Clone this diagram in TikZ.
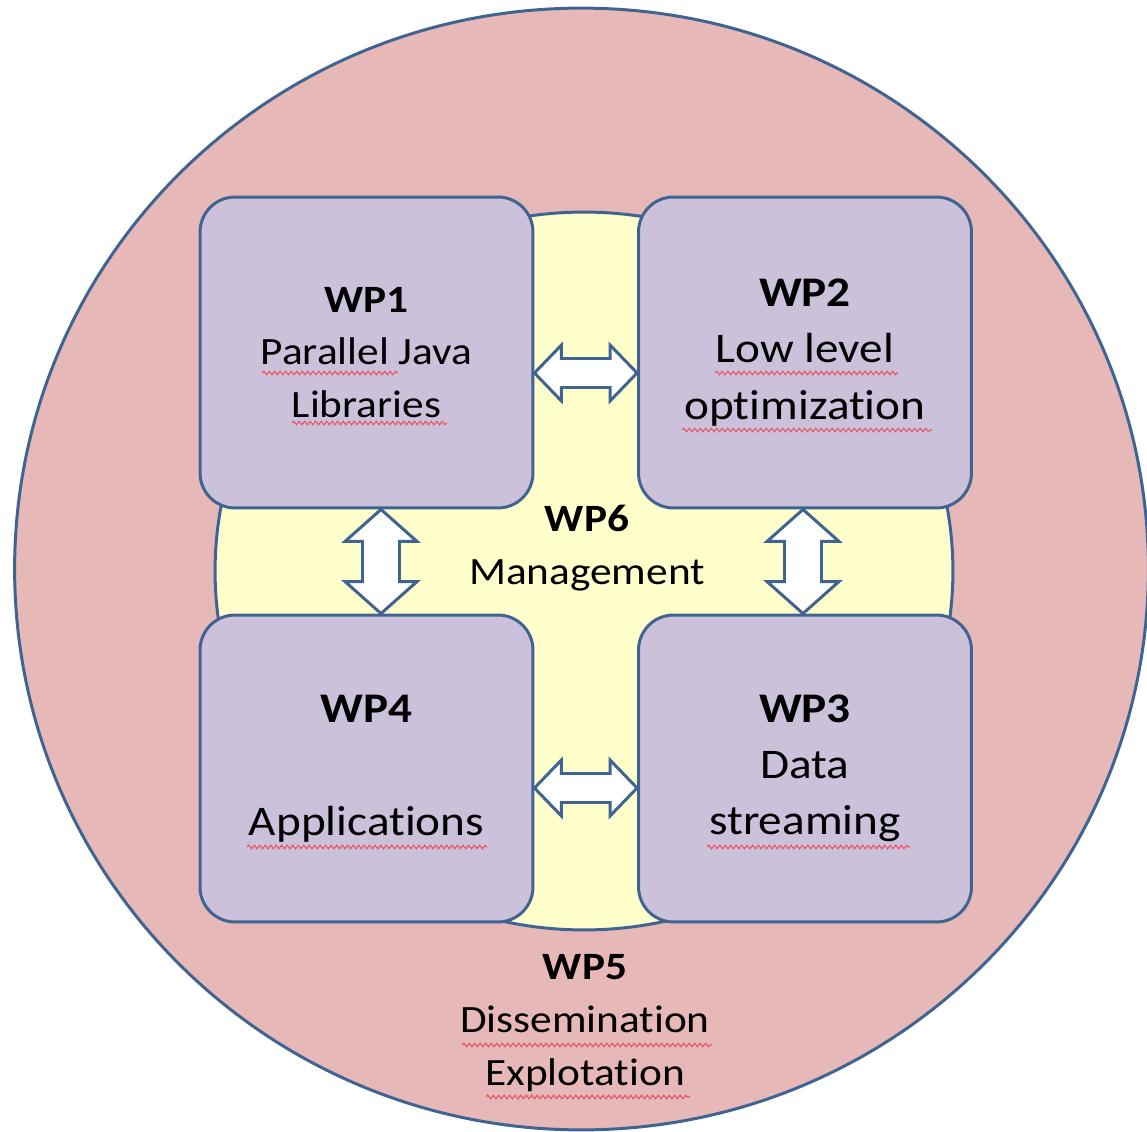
\documentclass[tikz,border=0pt]{standalone}
\usepackage{fontspec}
\setmainfont[FakeStretch=1.12, Ligatures=CommonOff]{Carlito}
\usetikzlibrary{calc,decorations.pathmorphing}

\definecolor{wpblue}{RGB}{64,100,146}
\definecolor{wppink}{RGB}{230,184,183}
\definecolor{wpyellow}{RGB}{255,255,204}
\definecolor{wplilac}{RGB}{204,193,218}
\definecolor{spellred}{RGB}{235,80,95}

\tikzset{
    wpbox/.style={draw=wpblue, fill=wplilac, line width=1.7pt, rounded corners=0.7cm,
        minimum width=6.66cm, align=center, inner sep=0pt},
    bigtext/.style={font=\fontsize{24}{32}\selectfont},
    linkarrow/.style={draw=wpblue, fill=white, line width=1.7pt},
    spellwave/.style={draw=spellred, line width=0.6pt, decorate,
        decoration={snake, amplitude=0.035cm, segment length=0.11cm}},
}

\newcommand\hlink[2]{%
    \draw[linkarrow] (#1) -- ($(#1)+(27,-28)$) -- ($(#1)+(27,-14.5)$) -- ($(#2)+(-27,-14.5)$)
        -- ($(#2)+(-27,-28)$) -- (#2) -- ($(#2)+(-27,28)$) -- ($(#2)+(-27,14.5)$)
        -- ($(#1)+(27,14.5)$) -- ($(#1)+(27,28)$) -- cycle;}
\newcommand\vlink[2]{%
    \draw[linkarrow] (#1) -- ($(#1)+(36,32)$) -- ($(#1)+(18.5,32)$) -- ($(#2)+(18.5,-32)$)
        -- ($(#2)+(36,-32)$) -- (#2) -- ($(#2)+(-36,-32)$) -- ($(#2)+(-18.5,-32)$)
        -- ($(#1)+(-18.5,32)$) -- ($(#1)+(-36,32)$) -- cycle;}

\begin{document}
\begin{tikzpicture}[x=0.02cm, y=-0.02cm, font=\fontsize{22}{30}\selectfont]
    \useasboundingbox (0,0) rectangle (1147,1132);

    \draw[draw=wpblue, fill=wppink, line width=1.7pt] (581.5,569) ellipse [x radius=11.34cm, y radius=11.22cm];
    \draw[draw=wpblue, fill=wpyellow, line width=1.7pt] (584,571) ellipse [x radius=7.38cm, y radius=7.18cm];

    \node[wpbox, minimum height=6.22cm] (wp1) at (366.5,352.5) {\textbf{WP1}\\Parallel Java\\Libraries};
    \node[wpbox, bigtext, minimum height=6.22cm] (wp2) at (805,352.5) {\textbf{WP2}\\Low level\\optimization};
    \node[wpbox, bigtext, minimum height=6.14cm] (wp4) at (366.5,768.5) {\textbf{WP4}\\[32pt]Applications};
    \node[wpbox, bigtext, minimum height=6.14cm] (wp3) at (805,768.5) {\textbf{WP3}\\Data\\streaming};

    \node[align=center] (wp6) at (587,548) {\textbf{WP6}\\Management};
    \node[align=center] (wp5) at (585,1023) {\textbf{WP5}\\Dissemination\\Explotation};

    \draw[spellwave] (262,373) -- (398,373);
    \draw[spellwave] (292,423) -- (447,423);
    \draw[spellwave] (715,373) -- (898,373);
    \draw[spellwave] (682,430) -- (932,430);
    \draw[spellwave] (247,847) -- (487,847);
    \draw[spellwave] (707,847) -- (910,847);
    \draw[spellwave] (462,1045) -- (712,1045);
    \draw[spellwave] (486,1097) -- (690,1097);

    \coordinate (l12a) at (wp1.east |- 0,373);
    \coordinate (l12b) at (wp2.west |- 0,373);
    \coordinate (l43a) at (wp4.east |- 0,788);
    \coordinate (l43b) at (wp3.west |- 0,788);
    \coordinate (l14a) at (wp1.south -| 381,0);
    \coordinate (l14b) at (wp4.north -| 381,0);
    \coordinate (l23a) at (wp2.south -| 803,0);
    \coordinate (l23b) at (wp3.north -| 803,0);

    \hlink{l12a}{l12b}
    \hlink{l43a}{l43b}
    \vlink{l14a}{l14b}
    \vlink{l23a}{l23b}
\end{tikzpicture}
\end{document}
